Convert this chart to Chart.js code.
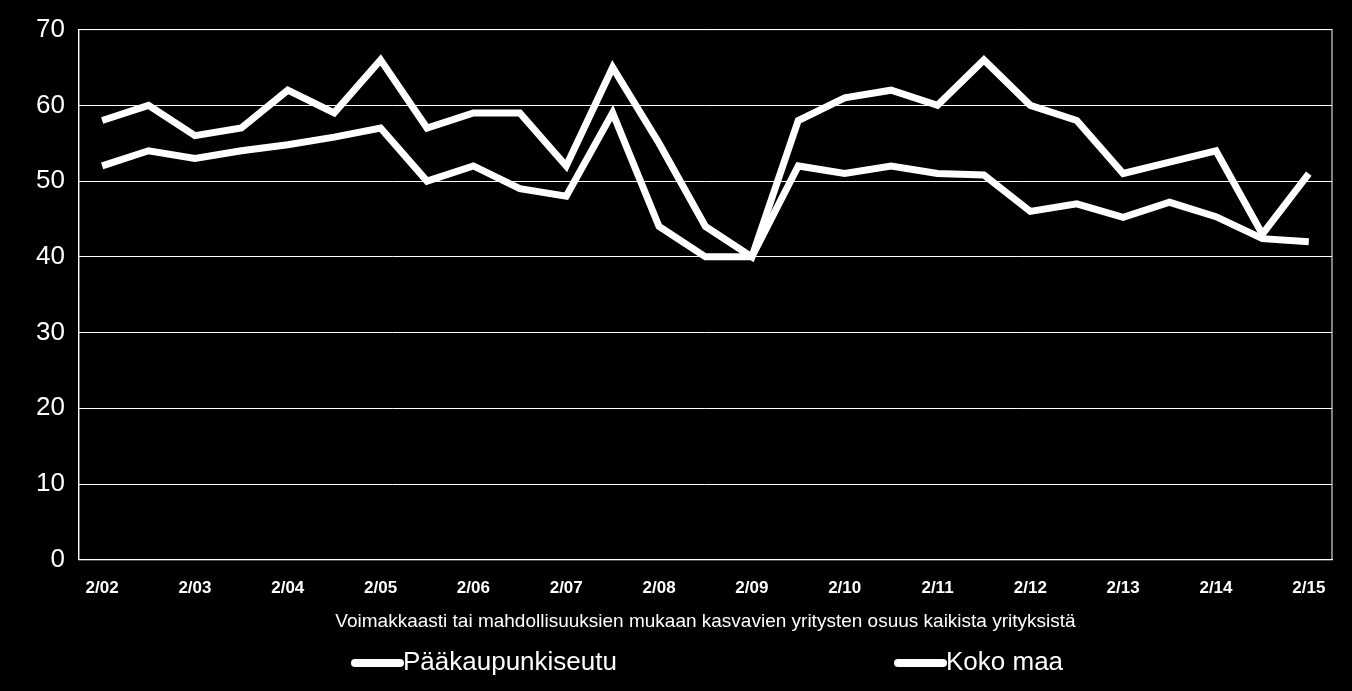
<!DOCTYPE html>
<html><head><meta charset="utf-8">
<script src="https://cdn.jsdelivr.net/npm/chart.js@4"></script>
<style>html,body{margin:0;background:#000;}#w{width:1352px;height:691px;}</style>
</head><body><div id="w"><canvas id="c"></canvas></div>
<script>
const tickLabels=["2/02","2/03","2/04","2/05","2/06","2/07","2/08","2/09","2/10","2/11","2/12","2/13","2/14","2/15"];
const categories=[];
tickLabels.forEach((t,i)=>{categories.push(t); if(i<tickLabels.length-1) categories.push("");});
const seriesNames=["Pääkaupunkiseutu","Koko maa"];
const kokoMaa=[58,60,56,57,62,59,66,57,59,59,52,65,55,44,40,58,61,62,60,66,60,58,51,52.5,54,43,51];
const paakaupunkiseutu=[52,54,53,54,54.8,55.8,57,50,52,49,48,59,44,40,40,52,51,52,51,50.8,46,47,45.2,47.2,45.3,42.4,42];
new Chart(document.getElementById('c'),{type:'line',
data:{labels:categories,datasets:[
{label:seriesNames[0],data:paakaupunkiseutu,borderColor:'#fff',backgroundColor:'#fff',borderWidth:7,pointRadius:0,tension:0},
{label:seriesNames[1],data:kokoMaa,borderColor:'#fff',backgroundColor:'#fff',borderWidth:7,pointRadius:0,tension:0}]},
options:{responsive:true,maintainAspectRatio:false,animation:false,
layout:{padding:{left:22,right:20,top:12,bottom:58}},
plugins:{legend:{display:false},tooltip:{enabled:false}},
scales:{
x:{offset:true,grid:{display:false},border:{color:'#fff',width:1},
ticks:{color:'#fff',font:{family:'Liberation Sans',size:17,weight:'bold'},autoSkip:false,maxRotation:0,padding:10},
title:{display:true,text:'Voimakkaasti tai mahdollisuuksien mukaan kasvavien yritysten osuus kaikista yrityksistä',color:'#fff',font:{family:'Liberation Sans',size:19},padding:{top:2,bottom:0}}},
y:{min:0,max:70,grid:{color:'#fff',lineWidth:1,drawTicks:false},border:{color:'#fff'},
ticks:{stepSize:10,color:'#fff',font:{family:'Liberation Sans',size:26},padding:14}}
}},
plugins:[{id:'frame',afterDraw(ch){const a=ch.chartArea,c=ch.ctx;c.save();c.strokeStyle='#fff';c.lineWidth=1;c.strokeRect(a.left,a.top,a.right-a.left,a.bottom-a.top);
const pos=[355,898];c.font='26px Liberation Sans';c.fillStyle='#fff';c.textBaseline='middle';c.lineWidth=8;c.lineCap='round';
ch.data.datasets.forEach((d,i)=>{const x=pos[i],y=663;c.beginPath();c.moveTo(x,y);c.lineTo(x+45,y);c.stroke();c.fillText(d.label,x+48,y);});
c.restore();}}]
});
</script></body></html>
